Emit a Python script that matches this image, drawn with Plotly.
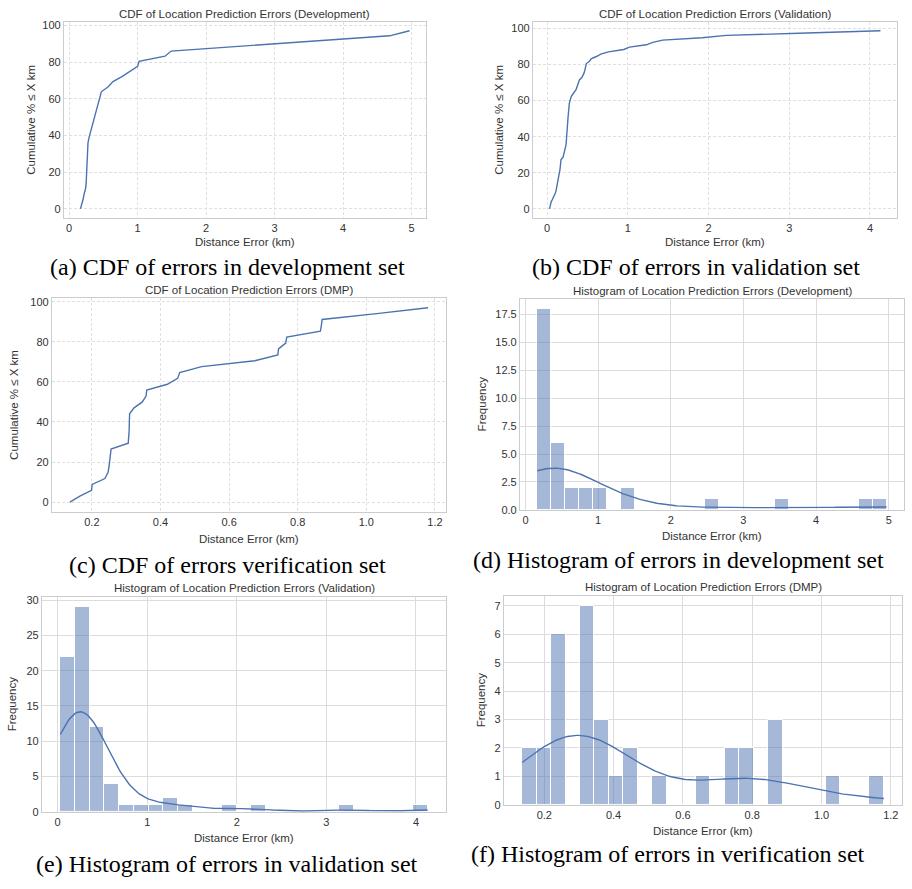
import numpy as np
import plotly.graph_objects as go

# ---------------- data (distance errors in km) ----------------
dev_errors = [0.165, 0.19, 0.205, 0.22, 0.24, 0.248, 0.252, 0.258, 0.262, 0.265,
              0.267, 0.27, 0.272, 0.275, 0.29, 0.31, 0.325, 0.345,
              0.37, 0.395, 0.415, 0.43, 0.45, 0.47,
              0.57, 0.64, 0.77, 0.88, 1.0, 1.02, 1.40, 1.49,
              2.55, 3.5, 4.68, 4.97]

val_errors = [0.03, 0.035, 0.04, 0.05, 0.065, 0.08, 0.095, 0.105, 0.112, 0.118,
              0.124, 0.13, 0.135, 0.14, 0.145, 0.15, 0.155, 0.16, 0.163, 0.166,
              0.169, 0.172,
              0.197, 0.205, 0.215, 0.222, 0.228, 0.232, 0.236, 0.239, 0.241, 0.243,
              0.245, 0.247, 0.249, 0.251, 0.253, 0.255, 0.257, 0.259, 0.261, 0.263,
              0.265, 0.267, 0.269, 0.275, 0.283, 0.292, 0.30, 0.32, 0.345,
              0.36, 0.37, 0.38, 0.39, 0.40, 0.43, 0.448, 0.458, 0.466, 0.473,
              0.479, 0.486,
              0.525, 0.545, 0.61, 0.665,
              0.76, 0.95, 1.02, 1.23, 1.31, 1.43, 1.92, 2.22, 3.22, 4.13]

dmp_errors = [0.136, 0.165, 0.199, 0.201, 0.238, 0.247, 0.25, 0.252, 0.254, 0.256,
              0.306, 0.308, 0.3085, 0.309, 0.3095, 0.31, 0.323,
              0.347, 0.358, 0.36, 0.42, 0.45, 0.456, 0.52, 0.675,
              0.742, 0.744, 0.765, 0.768, 0.866, 0.869, 0.871, 1.03, 1.18]

N_BINS = 25

titles = [
    "CDF of Location Prediction Errors (Development)",
    "CDF of Location Prediction Errors (Validation)",
    "CDF of Location Prediction Errors (DMP)",
    "Histogram of Location Prediction Errors (Development)",
    "Histogram of Location Prediction Errors (Validation)",
    "Histogram of Location Prediction Errors (DMP)",
]
captions = [
    "(a) CDF of errors in development set",
    "(b) CDF of errors in validation set",
    "(c) CDF of errors verification set",
    "(d) Histogram of errors in development set",
    "(e) Histogram of errors in validation set",
    "(f) Histogram of errors in verification set",
]
x_label = "Distance Error (km)"
y_label_cdf = "Cumulative % ≤ X km"
y_label_hist = "Frequency"

# ---------------- layout geometry (pixels) ----------------
W, H = 912, 889
# frame boxes: left, right, top, bottom
frames = [
    (64, 426, 19, 217),
    (533, 897, 19, 217),
    (52, 446, 298, 514),
    (520, 904, 299, 512),
    (42, 446, 600, 817),
    (504, 902, 599, 810),
]
caption_pos = [(227, 267), (696, 267), (227, 568), (678, 563), (227, 870), (668, 860)]
ylabel_x = [31, 499, 14, 482, 12, 481]
xlabel_gap = [24, 24, 27, 26, 27, 26]
title_gap = [8, 8, 8, 8, 9, 9]

BLUE = "#4C72B0"
BAR_FILL = "rgba(76,114,176,0.5)"
TXT = "#333333"
FONT = "Liberation Sans, Arial, sans-serif"


def px(x):
    return x / W


def py(y):
    return 1 - y / H


def pad(lo, hi, frac=0.05):
    d = (hi - lo) * frac
    return [lo - d, hi + d]


def kde_curve(data, bins=N_BINS, gridsize=200):
    d = np.asarray(data, dtype=float)
    n = len(d)
    bw = n ** (-0.2) * d.std(ddof=1)
    xs = np.linspace(d.min(), d.max(), gridsize)
    dens = np.exp(-0.5 * ((xs[:, None] - d[None, :]) / bw) ** 2).sum(axis=1) / (n * bw * np.sqrt(2 * np.pi))
    binw = (d.max() - d.min()) / bins
    return xs, dens * n * binw


fig = go.Figure()
annotations = []

datasets = [dev_errors, val_errors, dmp_errors, dev_errors, val_errors, dmp_errors]
kinds = ["cdf", "cdf", "cdf", "hist", "hist", "hist"]
xticks = [
    ([0, 1, 2, 3, 4, 5], None),
    ([0, 1, 2, 3, 4], None),
    ([0.2, 0.4, 0.6, 0.8, 1.0, 1.2], ".1f"),
    ([0, 1, 2, 3, 4, 5], None),
    ([0, 1, 2, 3, 4], None),
    ([0.2, 0.4, 0.6, 0.8, 1.0, 1.2], ".1f"),
]
yticks = [
    ([0, 20, 40, 60, 80, 100], None),
    ([0, 20, 40, 60, 80, 100], None),
    ([0, 20, 40, 60, 80, 100], None),
    ([0, 2.5, 5, 7.5, 10, 12.5, 15, 17.5], ".1f"),
    ([0, 5, 10, 15, 20, 25, 30], None),
    ([0, 1, 2, 3, 4, 5, 6, 7], None),
]

for i in range(6):
    ax = "" if i == 0 else str(i + 1)
    xa, ya = "x" + ax, "y" + ax
    data = np.sort(np.asarray(datasets[i], dtype=float))
    n = len(data)
    if kinds[i] == "cdf":
        yv = np.arange(n) / n * 100
        fig.add_trace(go.Scatter(x=data, y=yv, mode="lines", line=dict(color=BLUE, width=1.4),
                                 xaxis=xa, yaxis=ya, showlegend=False, hoverinfo="skip"))
        xr = pad(data.min(), data.max())
        yr = pad(yv.min(), yv.max())
        gridkw = dict(gridcolor="#e0e0e0", griddash="3px,2px", gridwidth=0.8)
    else:
        counts, edges = np.histogram(data, bins=N_BINS)
        binw = edges[1] - edges[0]
        fig.add_trace(go.Bar(x=edges[:-1], y=counts, width=binw, offset=0,
                             marker=dict(color=BAR_FILL, line=dict(color="white", width=1)),
                             xaxis=xa, yaxis=ya, showlegend=False, hoverinfo="skip"))
        kx, ky = kde_curve(data)
        fig.add_trace(go.Scatter(x=kx, y=ky, mode="lines", line=dict(color=BLUE, width=1.4),
                                 xaxis=xa, yaxis=ya, showlegend=False, hoverinfo="skip"))
        xr = pad(edges[0], edges[-1])
        yr = [0, counts.max() * 1.05]
        gridkw = dict(gridcolor="#dcdcdc", gridwidth=1)

    l, r, t, b = frames[i]
    common = dict(showline=True, mirror=True, linecolor="#cccccc", linewidth=1.2,
                  zeroline=False, ticks="", showgrid=True,
                  tickfont=dict(family=FONT, size=11, color=TXT))
    xkw = dict(common, domain=[px(l), px(r)], range=xr, anchor=ya,
               tickvals=xticks[i][0], **gridkw)
    if xticks[i][1]:
        xkw["tickformat"] = xticks[i][1]
    ykw = dict(common, domain=[py(b), py(t)], range=yr, anchor=xa,
               tickvals=yticks[i][0], **gridkw)
    if yticks[i][1]:
        ykw["tickformat"] = yticks[i][1]
    fig.update_layout(**{"xaxis" + ax: xkw, "yaxis" + ax: ykw})

    cx = (l + r) / 2
    cy = (t + b) / 2
    annotations.append(dict(text=titles[i], x=px(cx), y=py(t - title_gap[i]), xref="paper", yref="paper",
                            showarrow=False, xanchor="center", yanchor="middle",
                            font=dict(family=FONT, size=11.5, color=TXT)))
    annotations.append(dict(text=x_label, x=px(cx), y=py(b + xlabel_gap[i]), xref="paper", yref="paper",
                            showarrow=False, xanchor="center", yanchor="middle",
                            font=dict(family=FONT, size=11.5, color=TXT)))
    annotations.append(dict(text=y_label_cdf if kinds[i] == "cdf" else y_label_hist,
                            x=px(ylabel_x[i]), y=py(cy), xref="paper", yref="paper",
                            showarrow=False, xanchor="center", yanchor="middle", textangle=-90,
                            font=dict(family=FONT, size=11.5, color=TXT)))
    annotations.append(dict(text=captions[i], x=px(caption_pos[i][0]), y=py(caption_pos[i][1]),
                            xref="paper", yref="paper", showarrow=False,
                            xanchor="center", yanchor="middle",
                            font=dict(family="Liberation Serif, Times New Roman, serif", size=24, color="#000000")))

fig.update_layout(width=W, height=H, margin=dict(l=0, r=0, t=0, b=0),
                  paper_bgcolor="white", plot_bgcolor="white",
                  annotations=annotations, bargap=0)

fig.write_html("out.html")
